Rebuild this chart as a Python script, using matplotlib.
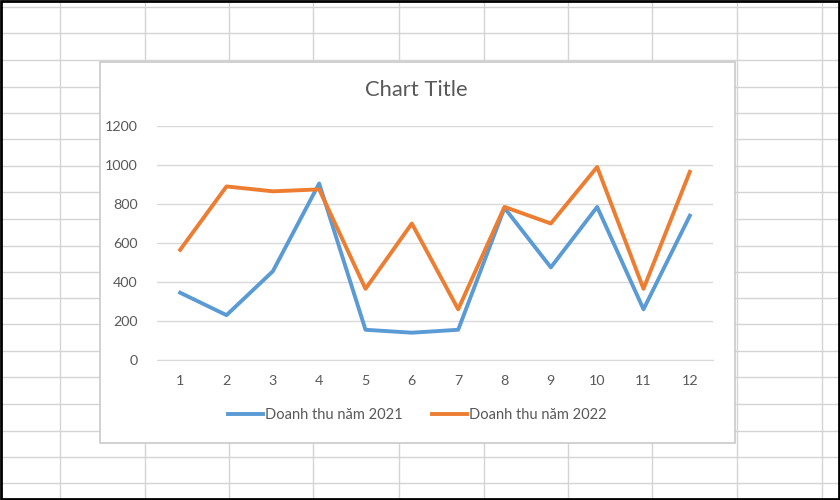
import matplotlib
matplotlib.use("Agg")
import matplotlib.pyplot as plt
from matplotlib.patches import Rectangle

# data
months = [1, 2, 3, 4, 5, 6, 7, 8, 9, 10, 11, 12]
revenue_2021 = [345, 230, 455, 905, 155, 140, 155, 780, 475, 785, 260, 740]
revenue_2022 = [565, 890, 865, 875, 365, 700, 260, 785, 700, 990, 365, 965]
series_labels = ["Doanh thu năm 2021", "Doanh thu năm 2022"]
y_ticks = [0, 200, 400, 600, 800, 1000, 1200]

W, H = 840, 500
plt.rcParams['font.family'] = ['Lato', 'DejaVu Sans']
fig = plt.figure(figsize=(W / 100, H / 100), dpi=100)
fig.patch.set_facecolor("white")

# spreadsheet background (pixel coords)
bg = fig.add_axes([0, 0, 1, 1])
bg.set_xlim(0, W)
bg.set_ylim(H, 0)
bg.axis("off")
for x in [60, 145, 229, 313, 399, 484, 568, 652, 737, 822]:
    bg.axvline(x, color="#d4d4d4", lw=1)
for y in [7, 33, 60, 87, 113, 139, 166, 192, 219, 246, 272, 298, 324, 351,
          377, 404, 431, 457, 483]:
    bg.axhline(y, color="#d4d4d4", lw=1)
# chart area box
bg.add_patch(Rectangle((100, 62), 635, 381, facecolor="white",
                       edgecolor="#c9c9c9", lw=1.2, zorder=3))
# outer dark frame
bg.add_patch(Rectangle((1, 1), W - 2, H - 2, fill=False,
                       edgecolor="black", lw=2, zorder=4))
bg.text(416, 90, "Chart Title", ha="center", va="center", fontsize=15.8,
        color="#595959", zorder=5)

# plot area: x 157..713, y 126..360 px
ax = fig.add_axes([157 / W, 1 - 360 / H, 556 / W, 234 / H])
ax.set_facecolor("none")
ax.plot(months, revenue_2021, color="#5B9BD5", lw=2.8, label=series_labels[0],
        solid_joinstyle="round", zorder=3)
ax.plot(months, revenue_2022, color="#ED7D31", lw=2.8, label=series_labels[1],
        solid_joinstyle="round", zorder=3)
ax.set_xlim(0.5, 12.5)
ax.set_ylim(0, 1200)
ax.set_yticks(y_ticks)
ax.set_xticks(months)
ax.grid(axis="y", color="#d9d9d9", lw=1)
ax.set_axisbelow(True)
for s in ["top", "right", "left"]:
    ax.spines[s].set_visible(False)
ax.spines["bottom"].set_color("#d9d9d9")
ax.tick_params(length=0, labelsize=10.3, labelcolor="#595959")
ax.tick_params(axis="x", pad=11)
ax.tick_params(axis="y", pad=14)

fig.legend(loc="center", bbox_to_anchor=(417 / W, 1 - 415 / H), ncol=2,
           frameon=False, fontsize=10.5, labelcolor="#595959",
           handlelength=2.4, handletextpad=0.15, columnspacing=2.0)

fig.savefig("out.png", dpi=100)
